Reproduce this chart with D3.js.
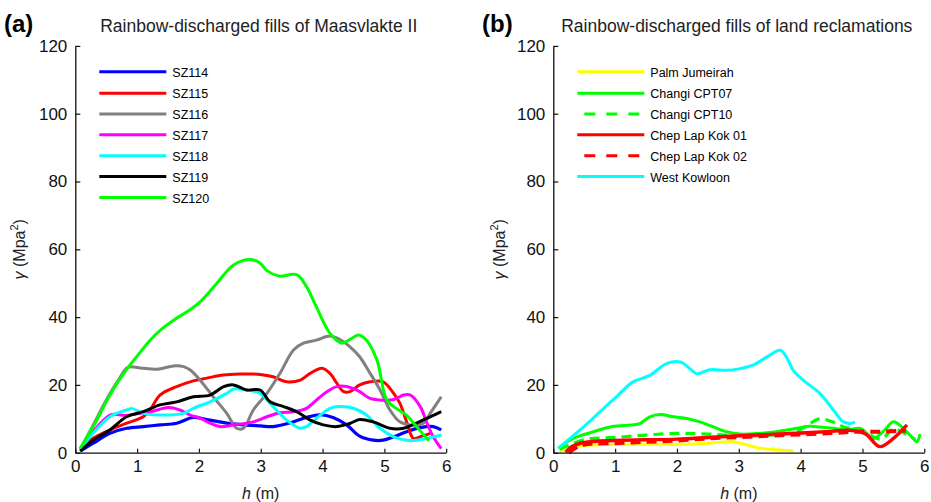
<!DOCTYPE html>
<html><head><meta charset="utf-8">
<script src="https://cdn.jsdelivr.net/npm/d3@7/dist/d3.min.js"></script>
<style>
html,body{margin:0;padding:0;background:#fff;}
svg{display:block;font-family:"Liberation Sans",Arial,sans-serif;}
</style></head>
<body>
<svg id="chart" width="931" height="502"></svg>
<script>
// ---------- data ----------
const xTicks = [0,1,2,3,4,5,6];
const yTicks = [0,20,40,60,80,100,120];

// panel (a): Rainbow-discharged fills of Maasvlakte II
const seriesA = ["SZ114","SZ115","SZ116","SZ117","SZ118","SZ119","SZ120"];
const sz114 = [[0.08,0.5],[0.29,2.8],[0.56,5.7],[0.83,7.2],[1.1,7.7],[1.37,8.2],[1.64,8.7],[1.91,10.4],[2.18,9.6],[2.45,8.7],[2.72,8.2],[3.0,7.9],[3.2,7.7],[3.53,9.1],[3.74,10.4],[3.96,11.2],[4.17,10.4],[4.39,8.2],[4.6,4.9],[4.82,3.7],[4.98,3.7],[5.15,4.7],[5.36,6.2],[5.58,7.4],[5.79,7.7],[5.92,6.7]];
const sz115 = [[0.08,1],[0.24,3.7],[0.56,6.7],[0.83,8.7],[1.1,10.6],[1.21,12.6],[1.37,17],[1.64,19.5],[1.91,21.2],[2.13,22],[2.39,22.9],[2.66,23.2],[2.99,23.1],[3.2,22.4],[3.42,20.9],[3.64,21.4],[3.8,23.4],[3.99,24.9],[4.12,23.4],[4.23,20.5],[4.34,18],[4.44,18],[4.6,20],[4.77,20.9],[4.98,20.9],[5.15,17.5],[5.25,14.6],[5.36,9.1],[5.47,4.2],[5.58,4.7],[5.74,5.7]];
const sz116 = [[0.08,1],[0.3,8.5],[0.5,15.5],[0.7,21.5],[0.85,25.2],[1.05,25],[1.32,24.6],[1.59,25.6],[1.75,25.4],[1.86,24.4],[2.02,21.4],[2.23,16.5],[2.45,11.6],[2.61,7.2],[2.72,7.2],[2.88,12.6],[3.1,17.5],[3.31,23.4],[3.53,30.3],[3.69,32.3],[3.9,33.2],[4.12,34.4],[4.28,33.4],[4.44,31.3],[4.6,28.3],[4.77,23.4],[4.93,18.5],[5.09,12.6],[5.25,9.1],[5.42,8.2],[5.63,8.7],[5.74,11.6],[5.92,16.5]];
const sz117 = [[0.08,1],[0.3,6.5],[0.58,11.2],[0.8,11],[1.0,11.5],[1.21,12],[1.5,13.3],[1.69,12.6],[1.86,11.1],[2.02,10.2],[2.18,8.7],[2.34,7.7],[2.56,8.2],[2.88,9.1],[3.1,10.6],[3.31,11.8],[3.53,12.1],[3.74,13.1],[3.9,15.5],[4.07,18],[4.23,19.5],[4.39,19.5],[4.6,18],[4.77,16],[4.98,15.5],[5.15,15.7],[5.31,17],[5.42,17],[5.58,13.6],[5.69,8.7],[5.79,4.7],[5.92,1.2]];
const sz118 = [[0.08,1],[0.3,6],[0.56,10.6],[0.83,12.6],[0.92,13],[1.1,11.6],[1.37,11.1],[1.75,11.6],[1.91,13.1],[2.18,15],[2.45,17.5],[2.56,18.8],[2.77,18.5],[2.99,17.5],[3.2,13.6],[3.42,9.6],[3.64,7.2],[3.74,7.7],[3.9,10.1],[4.12,13.1],[4.28,13.6],[4.5,13.1],[4.71,11.1],[4.93,7.2],[5.15,4.7],[5.36,3.7],[5.52,3.7],[5.69,4.2],[5.92,5.2]];
const sz119 = [[0.08,0.5],[0.29,3.7],[0.56,6.7],[0.83,10.6],[1.1,12.1],[1.37,14.1],[1.64,15],[1.91,16.5],[2.18,17],[2.4,19.5],[2.56,20],[2.77,18.5],[2.99,18.5],[3.15,15],[3.37,13.6],[3.58,12.1],[3.8,9.6],[4.01,8.2],[4.23,7.7],[4.45,8.7],[4.6,9.8],[4.82,9.1],[5.09,7.2],[5.31,7.2],[5.52,8.7],[5.74,10.6],[5.92,12.1]];
const sz120 = [[0.08,1.3],[0.3,8],[0.5,15],[0.67,20.3],[0.85,25],[1.0,28.5],[1.21,33.2],[1.4,36.5],[1.59,39.1],[1.8,41.5],[2.02,44.5],[2.29,50],[2.56,55.4],[2.83,57],[2.99,55.9],[3.1,53.7],[3.29,52.1],[3.58,52.5],[3.74,49],[3.9,43],[4.12,35.2],[4.31,32.3],[4.45,33.5],[4.58,34.7],[4.71,33.2],[4.88,27.3],[5.04,15.5],[5.2,13],[5.36,11],[5.52,7.7],[5.72,3.5]];

// panel (b): Rainbow-discharged fills of land reclamations
const seriesB = ["Palm Jumeirah","Changi CPT07","Changi CPT10","Chep Lap Kok 01","Chep Lap Kok 02","West Kowloon"];
const palmJumeirah = [[0.1,0.3],[0.25,1.2],[0.43,2],[0.8,2.4],[1.2,2.5],[1.6,2.5],[2.16,2.5],[2.5,2.8],[2.91,3.2],[3.13,2.3],[3.34,1.3],[3.6,0.9],[3.88,0.6]];
const changiCPT07 = [[0.08,1.3],[0.32,4.2],[0.65,6.2],[0.92,7.6],[1.19,8.1],[1.4,8.6],[1.56,10.6],[1.73,11.3],[1.94,10.6],[2.16,10.1],[2.37,9.1],[2.59,7.6],[2.8,6.2],[3.02,5.5],[3.34,5.7],[3.61,6.2],[3.94,7.2],[4.15,7.8],[4.31,7.6],[4.53,7.2],[4.74,6.7],[4.96,7.2],[5.07,5.7],[5.18,4.2],[5.35,6.5],[5.5,9.1],[5.66,7.2],[5.82,4.2],[5.88,3.2],[5.93,5.5]];
const changiCPT10 = [[0.1,1],[0.5,3.8],[1.0,4.5],[1.5,5.2],[2.0,5.7],[2.5,5.5],[3.0,5],[3.5,5.2],[3.9,6],[4.1,8],[4.3,10],[4.5,9.2],[4.7,7.6],[5.0,6.5],[5.3,4],[5.5,7],[5.7,5.5],[5.85,4]];
const chepLapKok01 = [[0.2,0.2],[0.3,1.8],[0.5,3],[1.0,3.6],[1.5,3.8],[2.0,4],[2.5,4.5],[3.0,5],[3.5,5.4],[4.0,5.8],[4.5,6.3],[4.8,6.6],[5.05,5.5],[5.28,1.8],[5.5,4.2],[5.72,8.2]];
const chepLapKok02 = [[0.25,0],[0.4,1.8],[0.6,2.6],[1.0,2.8],[1.5,3.2],[2.0,3.6],[2.5,4.2],[3.0,4.6],[3.5,5],[4.0,5.4],[4.5,5.8],[4.9,6.2],[5.3,6.2],[5.7,6.5]];
const westKowloon = [[0.08,1.3],[0.49,7.6],[0.75,12],[1.02,16.5],[1.29,20.9],[1.56,22.8],[1.83,26.3],[2.05,26.8],[2.21,24.8],[2.32,23.3],[2.53,24.5],[2.8,24.3],[3.02,24.8],[3.23,25.8],[3.45,28.2],[3.67,30.2],[3.77,28.2],[3.88,24.3],[4.04,21.4],[4.31,17.5],[4.53,12.6],[4.69,9.1],[4.8,8.6],[4.88,9]];

// ---------- drawing ----------
const svg = d3.select("#chart");

const panels = [
  {
    tag: "(a)", title: "Rainbow-discharged fills of Maasvlakte II",
    x0: 75.3, x1: 446.2, tagX: 4, ylabX: 20,
    names: seriesA,
    data: [sz114, sz115, sz116, sz117, sz118, sz119, sz120],
    colors: ["#0000ff","#ff0000","#808080","#ff00ff","#00ffff","#000000","#00ff00"],
    dashed: [false,false,false,false,false,false,false],
    widths: [3.2,3,3,3,3,3,3]
  },
  {
    tag: "(b)", title: "Rainbow-discharged fills of land reclamations",
    x0: 553.3, x1: 924.3, tagX: 482, ylabX: 500,
    names: seriesB,
    data: [palmJumeirah, changiCPT07, changiCPT10, chepLapKok01, chepLapKok02, westKowloon],
    colors: ["#ffff00","#00ff00","#00ff00","#ff0000","#ff0000","#00ffff"],
    dashed: [false,false,true,false,true,false],
    widths: [3,3,3.2,3.4,4,3]
  }
];

const yTop = 45.9, yBot = 452.7;

panels.forEach(p => {
  const x = d3.scaleLinear().domain([0,6]).range([p.x0, p.x1]);
  const y = d3.scaleLinear().domain([0,120]).range([yBot, yTop]);
  const g = svg.append("g");

  // series
  const line = d3.line().x(d => x(d[0])).y(d => y(d[1])).curve(d3.curveCatmullRom.alpha(0.5));
  p.data.forEach((s, i) => {
    g.append("path")
      .attr("d", line(s))
      .attr("fill", "none")
      .attr("stroke", p.colors[i])
      .attr("stroke-width", p.widths[i])
      .attr("stroke-linejoin", "round")
      .attr("stroke-dasharray", p.dashed[i] ? "10,6" : null);
  });

  // axes
  const ax = g.append("g").attr("transform", `translate(0,${yBot})`)
    .call(d3.axisBottom(x).tickValues(xTicks).tickFormat(d3.format("d")).tickSizeInner(-4).tickSizeOuter(0).tickPadding(7));
  const ay = g.append("g").attr("transform", `translate(${p.x0},0)`)
    .call(d3.axisLeft(y).tickValues(yTicks).tickFormat(d3.format("d")).tickSizeInner(-5).tickSizeOuter(0).tickPadding(8));
  [ax, ay].forEach(a => {
    a.select(".domain").attr("stroke", "#111").attr("stroke-width", 1.3);
    a.selectAll(".tick line").attr("stroke", "#111").attr("stroke-width", 1.2);
    a.selectAll(".tick text").attr("font-size", 17).attr("fill", "#111")
      .attr("font-family", '"Liberation Sans",Arial,sans-serif');
  });

  // tag and title
  const cx = (p.x0 + p.x1) / 2;
  g.append("text").attr("x", p.tagX).attr("y", 32).attr("font-size", 24).attr("font-weight", "bold")
    .attr("fill", "#000").text(p.tag);
  g.append("text").attr("x", cx - 2).attr("y", 32).attr("text-anchor", "middle").attr("font-size", 17.5)
    .attr("fill", "#222").text(p.title);

  // y label
  const yl = g.append("text").attr("transform", `translate(${p.ylabX + 5},${(yTop + yBot) / 2}) rotate(-90)`)
    .attr("text-anchor", "middle").attr("font-size", 16).attr("fill", "#222");
  yl.append("tspan").attr("font-style", "italic").text("γ");
  yl.append("tspan").text(" (Mpa");
  yl.append("tspan").attr("font-size", 11).attr("dy", -7).text("2");
  yl.append("tspan").attr("dy", 7).text(")");

  // x label
  const xl = g.append("text").attr("x", cx).attr("y", 499).attr("text-anchor", "middle")
    .attr("font-size", 16).attr("fill", "#222");
  xl.append("tspan").attr("font-style", "italic").text("h");
  xl.append("tspan").text(" (m)");

  // legend
  const legY = [71.7, 93.2, 114, 134.8, 155.7, 176.5, 197.5];
  const lx0 = p.x0 + 24, lx1 = p.x0 + 91;
  p.names.forEach((n, i) => {
    g.append("line")
      .attr("x1", p.dashed[i] ? lx0 + 7 : lx0).attr("x2", lx1)
      .attr("y1", legY[i]).attr("y2", legY[i])
      .attr("stroke", p.colors[i]).attr("stroke-width", 3)
      .attr("stroke-dasharray", p.dashed[i] ? "11,11" : null);
    g.append("text").attr("x", lx1 + 6).attr("y", legY[i] + 5)
      .attr("font-size", 12.5).attr("fill", "#000").text(n);
  });
});
</script>
</body></html>
